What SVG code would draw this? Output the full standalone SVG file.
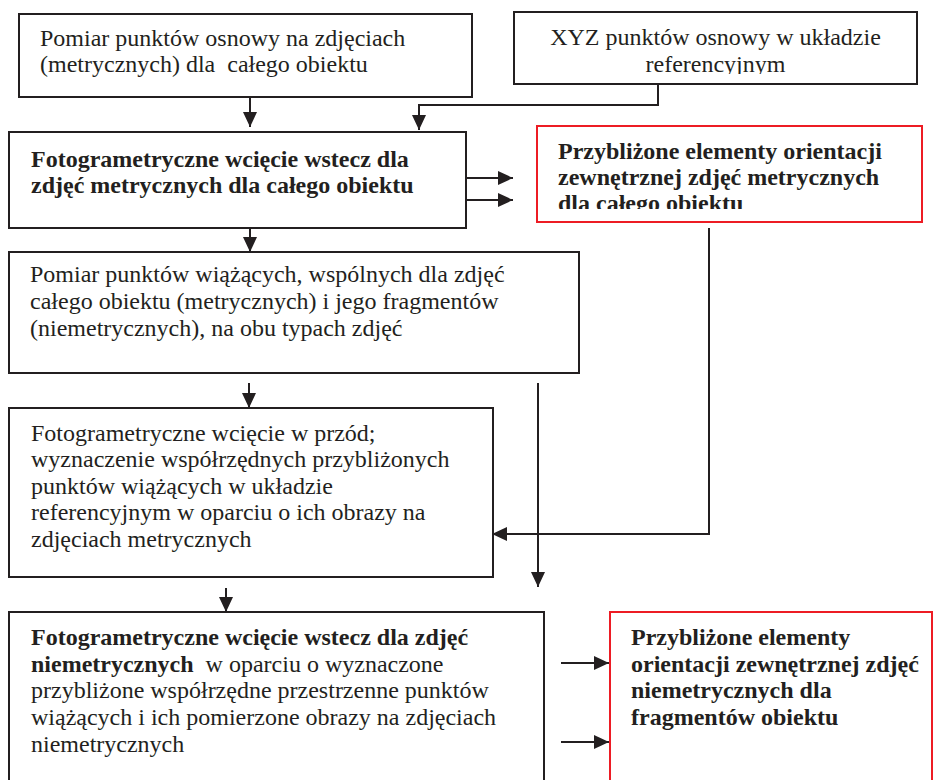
<svg xmlns="http://www.w3.org/2000/svg" width="934" height="780" viewBox="0 0 934 780">
<style>
.box{fill:#fff;stroke:#231f20;stroke-width:2}
.red{fill:#fff;stroke:#ed1c24;stroke-width:2}
text{font-family:"Liberation Serif","Times New Roman",serif;font-size:24px;fill:#231f20;white-space:pre}
.b{font-weight:bold}
.c{text-anchor:middle}
.ln{fill:none;stroke:#231f20;stroke-width:2}
</style>
<defs>
<marker id="ah" viewBox="0 0 15 14" refX="15" refY="7" markerWidth="15" markerHeight="14" markerUnits="userSpaceOnUse" orient="auto">
<path d="M0,0 L15,7 L0,14 Z" fill="#231f20"/>
</marker>
<clipPath id="clipXYZ"><rect x="514" y="12" width="403" height="62"/></clipPath>
<clipPath id="clipR1"><rect x="537" y="126" width="385" height="83"/></clipPath>
</defs>

<g id="node-pomiar-osnowy">
<rect class="box" x="19" y="14" width="453" height="83"/>
<text x="40" y="46">Pomiar punktów osnowy na zdjęciach</text>
<text x="40" y="72">(metrycznych) dla  całego obiektu</text>
</g>

<g id="node-xyz">
<rect class="box" x="514" y="12" width="403" height="72"/>
<g clip-path="url(#clipXYZ)">
<text class="c" x="715.5" y="45">XYZ punktów osnowy w układzie</text>
<text class="c" x="715.5" y="72">referencyjnym</text>
</g>
</g>

<g id="node-wciecie-wstecz-metryczne">
<rect class="box" x="9" y="132" width="457" height="96"/>
<text class="b" x="31" y="167">Fotogrametryczne wcięcie wstecz dla</text>
<text class="b" x="31" y="193">zdjęć metrycznych dla całego obiektu</text>
</g>

<g id="node-elementy-metryczne">
<rect class="red" x="537" y="126" width="385" height="96"/>
<g clip-path="url(#clipR1)">
<text class="b" x="558" y="159">Przybliżone elementy orientacji</text>
<text class="b" x="558" y="185">zewnętrznej zdjęć metrycznych</text>
<text class="b" x="558" y="211">dla całego obiektu</text>
</g>
</g>

<g id="node-pomiar-wiazacych">
<rect class="box" x="9" y="252" width="570" height="121"/>
<text x="30" y="282">Pomiar punktów wiążących, wspólnych dla zdjęć</text>
<text x="30" y="309">całego obiektu (metrycznych) i jego fragmentów</text>
<text x="30" y="336">(niemetrycznych), na obu typach zdjęć</text>
</g>

<g id="node-wciecie-w-przod">
<rect class="box" x="9" y="408" width="484" height="169"/>
<text x="31" y="441">Fotogrametryczne wcięcie w przód;</text>
<text x="31" y="467">wyznaczenie współrzędnych przybliżonych</text>
<text x="31" y="494">punktów wiążących w układzie</text>
<text x="31" y="520">referencyjnym w oparciu o ich obrazy na</text>
<text x="31" y="547">zdjęciach metrycznych</text>
</g>

<g id="node-wciecie-wstecz-niemetryczne">
<rect class="box" x="9" y="612" width="535" height="175"/>
<text class="b" x="31" y="645">Fotogrametryczne wcięcie wstecz dla zdjęć</text>
<text x="31" y="672"><tspan class="b">niemetrycznych</tspan>  w oparciu o wyznaczone</text>
<text x="31" y="698">przybliżone współrzędne przestrzenne punktów</text>
<text x="31" y="725">wiążących i ich pomierzone obrazy na zdjęciach</text>
<text x="31" y="752">niemetrycznych</text>
</g>

<g id="node-elementy-niemetryczne">
<rect class="red" x="610" y="612" width="322" height="175"/>
<text class="b" x="631" y="645">Przybliżone elementy</text>
<text class="b" x="631" y="672">orientacji zewnętrznej zdjęć</text>
<text class="b" x="631" y="698">niemetrycznych dla</text>
<text class="b" x="631" y="725">fragmentów obiektu</text>
</g>

<g id="connectors">
<path class="ln" d="M250,97 V127" marker-end="url(#ah)"/>
<path class="ln" d="M658,84 V105 H419 V130" marker-end="url(#ah)"/>
<path class="ln" d="M466,178 H513" marker-end="url(#ah)"/>
<path class="ln" d="M466,200 H513" marker-end="url(#ah)"/>
<path class="ln" d="M250,228 V252" marker-end="url(#ah)"/>
<path class="ln" d="M249,383 V408" marker-end="url(#ah)"/>
<path class="ln" d="M709,228 V534 H492" marker-end="url(#ah)"/>
<path class="ln" d="M538,383 V587" marker-end="url(#ah)"/>
<path class="ln" d="M226,588 V612" marker-end="url(#ah)"/>
<path class="ln" d="M561,663 H609" marker-end="url(#ah)"/>
<path class="ln" d="M561,742 H609" marker-end="url(#ah)"/>
</g>
</svg>
